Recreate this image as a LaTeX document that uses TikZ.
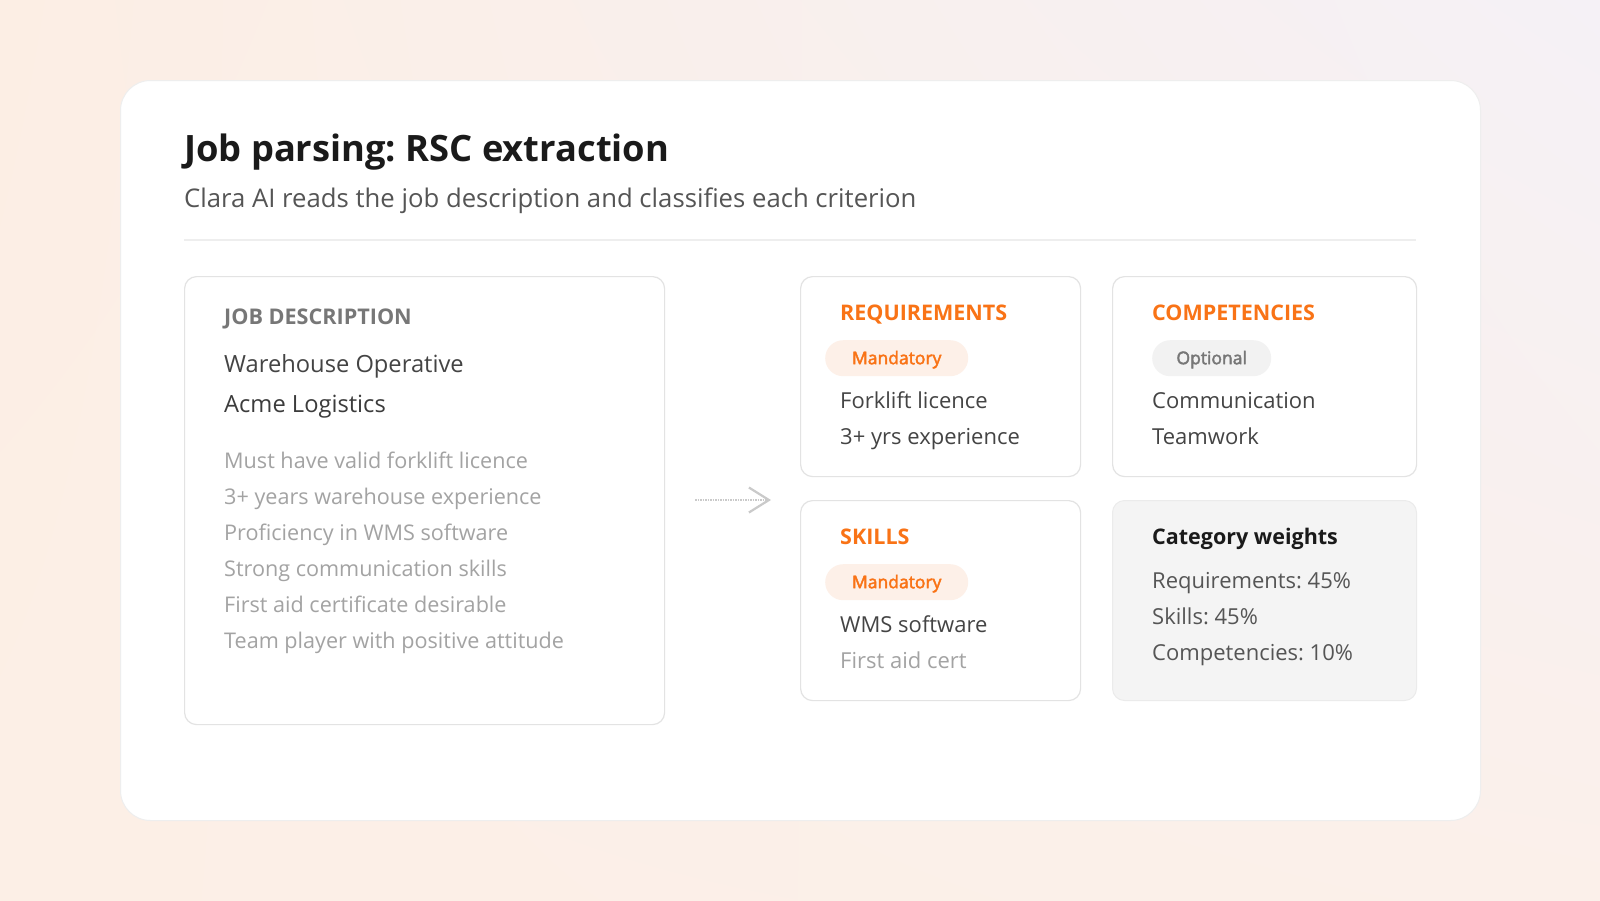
\documentclass[tikz,border=0pt]{standalone}
\usepackage{fontspec}
\setmainfont{Open Sans}
\newfontfamily\medfont[FakeBold=2.5]{Open Sans}
\frenchspacing
\usetikzlibrary{arrows.meta,shadings}
\definecolor{bgA}{HTML}{FCEEE4}
\definecolor{bgB}{HTML}{F5F1F6}
\definecolor{bgC}{HTML}{FCEFE6}
\definecolor{bgD}{HTML}{FBF0EA}
\definecolor{cardline}{HTML}{EEEEEE}
\definecolor{boxline}{HTML}{E3E3E3}
\definecolor{orangeT}{HTML}{F97316}
\definecolor{pillO}{HTML}{FDF0E8}
\definecolor{pillG}{HTML}{F2F2F2}
\definecolor{titleC}{HTML}{1A1A1A}
\definecolor{subC}{HTML}{555555}
\definecolor{labC}{HTML}{777777}
\definecolor{darkC}{HTML}{444444}
\definecolor{lightC}{HTML}{A3A3A3}
\definecolor{catFill}{HTML}{F4F4F4}
\definecolor{catLine}{HTML}{EBEBEB}
\definecolor{arrC}{HTML}{CACACA}
\tikzset{
  card/.style={draw=cardline, line width=1pt, fill=white, rounded corners=30pt, anchor=north west, inner sep=0pt},
  box/.style={draw=boxline, line width=1.2pt, fill=white, rounded corners=12pt, anchor=north west, inner sep=0pt},
  catbox/.style={draw=catLine, line width=1pt, fill=catFill, rounded corners=12pt, anchor=north west, inner sep=0pt},
  txt/.style={anchor=base west, inner sep=0pt},
  ttl/.style={txt, font=\fontsize{36.3}{40}\selectfont\bfseries, text=titleC},
  sub/.style={txt, font=\fontsize{25.7}{30}\selectfont, text=subC},
  lab/.style={txt, font=\fontsize{21.6}{24}\selectfont\bfseries, text=labC},
  jobt/.style={txt, font=\fontsize{23.7}{28}\selectfont, text=darkC},
  item/.style={txt, font=\fontsize{21.6}{26}\selectfont, text=lightC},
  head/.style={txt, font=\fontsize{21.5}{24}\selectfont\bfseries, text=orangeT},
  bitem/.style={txt, font=\fontsize{22}{26}\selectfont, text=darkC},
  pill/.style={rounded corners=18pt, minimum height=36pt, anchor=north west, inner sep=0pt},
  pilltxt/.style={anchor=base, inner sep=0pt, font=\fontsize{17.5}{20}\selectfont\medfont},
  mand/.style={pill, fill=pillO, minimum width=143pt},
  opt/.style={pill, fill=pillG, minimum width=119pt},
  arrowline/.style={draw=arrC, line width=2pt, dash pattern=on 1.5pt off 1pt, -{Straight Barb[length=20pt, width=25pt, line width=2.2pt]}}
}
\begin{document}
\begin{tikzpicture}[x=1pt, y=-1pt]
\useasboundingbox (0,0) rectangle (1600,900);
\shade[upper left=bgA, upper right=bgB, lower left=bgC, lower right=bgD] (0,0) rectangle (1600,900);
\node[card, minimum width=1360pt, minimum height=740pt] (main) at (120,80) {};
\node[ttl] (title) at (184,161) {Job parsing: RSC extraction};
\node[sub] (subtitle) at (184,207) {Clara AI reads the job description and classifies each criterion};
\draw[draw=cardline, line width=1.2pt] (184,240) coordinate (sepL) -- (1416,240) coordinate (sepR);
% job description
\node[box, minimum width=480pt, minimum height=448pt] (jd) at (184,276) {};
\node[lab] (jdl) at (224,324) {JOB DESCRIPTION};
\node[jobt] (jd1) at (224,372) {Warehouse Operative};
\node[jobt, text=titleC!85] (jd2) at (224,412) {Acme Logistics};
\node[item] (i1) at (224,468) {Must have valid forklift licence};
\node[item] (i2) at (224,504) {3+ years warehouse experience};
\node[item] (i3) at (224,540) {Proficiency in WMS software};
\node[item] (i4) at (224,576) {Strong communication skills};
\node[item] (i5) at (224,612) {First aid certificate desirable};
\node[item] (i6) at (224,648) {Team player with positive attitude};
% arrow
\coordinate (aS) at (695,500);
\coordinate (aE) at (771,500);
\draw[arrowline] (aS) -- (aE);
% requirements
\node[box, minimum width=280pt, minimum height=200pt] (req) at (800,276) {};
\node[head] (reqh) at (840,320) {REQUIREMENTS};
\node[mand] (reqp) at (825,340) {};
\node[pilltxt, text=orangeT] (reqpt) at ([yshift=-6pt]reqp.center) {Mandatory};
\node[bitem] (r1) at (840,408) {Forklift licence};
\node[bitem] (r2) at (840,444) {3+ yrs experience};
% competencies
\node[box, minimum width=304pt, minimum height=200pt] (comp) at (1112,276) {};
\node[head] (comph) at (1152,320) {COMPETENCIES};
\node[opt] (compp) at (1152,340) {};
\node[pilltxt, text=labC] (comppt) at ([yshift=-6pt]compp.center) {Optional};
\node[bitem] (c1) at (1152,408) {Communication};
\node[bitem] (c2) at (1152,444) {Teamwork};
% skills
\node[box, minimum width=280pt, minimum height=200pt] (sk) at (800,500) {};
\node[head] (skh) at (840,544) {SKILLS};
\node[mand] (skp) at (825,564) {};
\node[pilltxt, text=orangeT] (skpt) at ([yshift=-6pt]skp.center) {Mandatory};
\node[bitem] (s1) at (840,632) {WMS software};
\node[bitem, text=lightC] (s2) at (840,668) {First aid cert};
% weights
\node[catbox, minimum width=304pt, minimum height=200pt] (cw) at (1112,500) {};
\node[txt, font=\fontsize{21.5}{26}\selectfont\bfseries, text=titleC] (cwh) at (1152,544) {Category weights};
\node[bitem, text=subC] (w1) at (1152,588) {Requirements: 45\%};
\node[bitem, text=subC] (w2) at (1152,624) {Skills: 45\%};
\node[bitem, text=subC] (w3) at (1152,660) {Competencies: 10\%};
\end{tikzpicture}
\end{document}
